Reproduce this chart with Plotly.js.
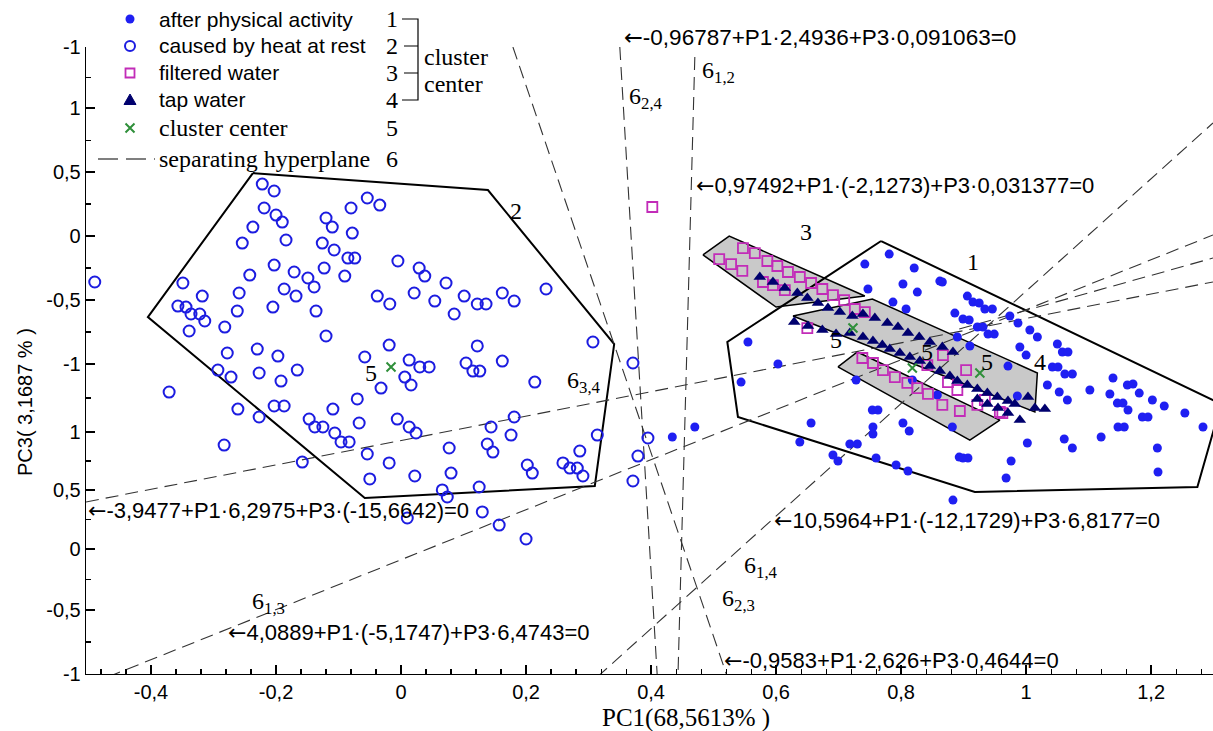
<!DOCTYPE html>
<html><head><meta charset="utf-8">
<script src="https://cdn.plot.ly/plotly-3.0.1.min.js"></script>
<style>body{margin:0;background:#fff}#chart{width:1213px;height:731px}</style>
</head><body><div id="chart"></div>
<script>
// ---------- axis ticks ----------
const xTickVals = [-0.4,-0.2,0,0.2,0.4,0.6,0.8,1,1.2];
const xTickText = ['-0,4','-0,2','0','0,2','0,4','0,6','0,8','1','1,2'];
const yTickVals = [1.477,1.0,0.5,0,-0.5,-1.0,-1.531,-1.984,-2.445,-2.922,-3.422];
const yTickText = ['-1','1','0,5','0','-0,5','-1','1','0,5','0','-0,5','-1'];
const xRange = [-0.504, 1.299];
const yRange = [-3.422, 1.477];

// ---------- series: caused by heat at rest (open circles) ----------
const heatX = [-0.222,-0.203,-0.219,-0.200,-0.190,-0.237,-0.254,-0.184,-0.120,-0.110,-0.080,-0.078,-0.126,-0.107,-0.085,-0.203,-0.171,-0.242,-0.149,-0.139,-0.123,-0.090,-0.490,-0.349,-0.318,-0.259,-0.187,-0.168,-0.357,-0.344,-0.336,-0.322,-0.314,-0.262,-0.205,-0.136,-0.339,-0.282,-0.120,-0.278,-0.230,-0.197,-0.293,-0.272,-0.227,-0.192,-0.166,-0.371,-0.261,-0.203,-0.187,-0.109,-0.227,-0.147,-0.138,-0.125,-0.106,-0.096,-0.083,-0.283,-0.158,
 -0.054,-0.034,-0.074,-0.005,0.029,0.038,0.072,-0.038,-0.018,0.021,0.054,0.101,0.085,0.122,0.136,0.162,0.181,0.232,-0.019,-0.058,0.013,0.030,0.045,0.006,0.016,-0.032,0.122,0.162,0.104,0.115,0.126,0.214,0.307,0.371,-0.070,-0.067,-0.006,0.013,0.024,0.077,0.144,0.181,0.176,0.138,0.147,-0.054,-0.019,-0.050,0.022,0.080,0.202,0.210,0.259,0.270,0.282,0.291,0.286,0.314,0.066,0.074,0.125,0.130,0.010,0.157,0.200,0.371,0.379,0.395];
const heatY = [0.406,0.352,0.219,0.164,0.109,0.070,-0.055,-0.031,0.141,0.070,0.219,0.023,-0.055,-0.109,-0.172,-0.227,-0.281,-0.305,-0.328,-0.398,-0.250,-0.313,-0.359,-0.367,-0.469,-0.445,-0.414,-0.469,-0.547,-0.555,-0.609,-0.609,-0.664,-0.586,-0.555,-0.586,-0.742,-0.711,-0.781,-0.914,-0.883,-0.938,-1.047,-1.102,-1.070,-1.133,-1.047,-1.219,-1.352,-1.328,-1.328,-1.352,-1.414,-1.430,-1.492,-1.492,-1.539,-1.609,-1.609,-1.633,-1.766,
 0.297,0.242,-0.172,-0.195,-0.250,-0.313,-0.367,-0.469,-0.531,-0.445,-0.508,-0.469,-0.609,-0.531,-0.531,-0.445,-0.508,-0.414,-0.852,-0.945,-0.969,-1.023,-1.023,-1.102,-1.164,-1.188,-0.859,-0.977,-0.992,-1.055,-1.055,-1.141,-0.828,-0.992,-1.273,-1.461,-1.430,-1.492,-1.539,-1.656,-1.492,-1.414,-1.555,-1.625,-1.688,-1.703,-1.773,-1.898,-1.875,-1.852,-1.789,-1.852,-1.773,-1.813,-1.813,-1.875,-1.680,-1.555,-1.984,-2.039,-1.961,-2.156,-2.203,-2.258,-2.367,-1.914,-1.719,-1.578];

// ---------- series: after physical activity (filled dots) ----------
const actX = [0.781,0.742,0.821,0.862,0.803,0.826,0.747,0.787,0.808,0.886,0.555,0.603,0.544,0.728,0.470,0.434,0.656,0.754,0.763,0.755,0.755,0.803,0.813,0.638,0.718,0.730,0.691,0.699,0.760,0.792,0.811,0.893,0.818,0.858,
 0.866,0.906,0.915,0.925,0.934,0.946,0.899,0.909,0.974,0.987,0.922,0.931,1.006,1.018,0.939,0.949,0.890,1.050,1.058,1.067,0.990,1.000,0.910,1.042,1.051,1.062,1.074,0.971,1.034,1.053,1.066,1.102,1.139,1.162,1.171,1.181,1.134,1.146,1.155,1.163,1.202,1.221,1.186,1.195,1.254,1.283,1.147,1.157,1.120,1.061,1.074,1.210,1.211,1.002,0.882,0.899,0.907,0.976,0.968,0.883,0.986];
const actY = [-0.141,-0.219,-0.250,-0.352,-0.375,-0.438,-0.414,-0.516,-0.570,-0.602,-0.828,-1.000,-1.141,-1.125,-1.492,-1.570,-1.461,-1.359,-1.359,-1.492,-1.547,-1.461,-1.523,-1.609,-1.625,-1.625,-1.711,-1.758,-1.734,-1.789,-1.836,-1.727,-1.125,-1.242,
 -0.359,-0.469,-0.516,-0.523,-0.570,-0.570,-0.648,-0.656,-0.625,-0.680,-0.711,-0.711,-0.734,-0.789,-0.766,-0.766,-0.789,-0.844,-0.906,-0.906,-0.867,-0.930,-0.859,-1.023,-1.023,-1.078,-1.078,-1.016,-1.164,-1.219,-1.281,-1.203,-1.109,-1.164,-1.156,-1.227,-1.234,-1.305,-1.305,-1.359,-1.281,-1.328,-1.414,-1.414,-1.383,-1.492,-1.492,-1.492,-1.570,-1.586,-1.656,-1.656,-1.844,-1.617,-1.492,-1.734,-1.734,-1.758,-1.891,-2.063,-1.250];

// ---------- series: filtered water (open squares) ----------
const filtX = [0.402,0.547,0.566,0.509,0.528,0.546,0.586,0.602,0.619,0.638,0.656,0.674,0.691,0.709,0.579,0.595,0.614,0.726,0.742,0.650,0.738,0.755,0.771,0.790,0.810,0.826,0.843,0.866,0.842,0.867,0.890,0.894,0.922,0.934,0.958,0.875,0.904,0.962];
const filtY = [0.227,-0.094,-0.133,-0.180,-0.219,-0.273,-0.195,-0.234,-0.281,-0.320,-0.367,-0.414,-0.461,-0.500,-0.359,-0.383,-0.422,-0.570,-0.594,-0.719,-0.953,-0.992,-1.047,-1.102,-1.148,-1.188,-1.234,-1.320,-1.008,-0.930,-1.203,-1.367,-1.320,-1.281,-1.375,-1.141,-1.047,-1.383];

// ---------- series: tap water (triangles) ----------
const tapX = [0.574,0.595,0.614,0.634,0.650,0.667,0.683,0.702,0.722,0.739,0.758,0.778,0.795,0.811,0.829,0.846,0.866,0.883,0.629,0.651,0.674,0.696,0.718,0.739,0.755,0.770,0.782,0.798,0.814,0.830,0.846,0.862,0.878,0.890,0.906,0.922,0.938,0.954,0.971,0.982,1.003,1.014,1.030,0.990,0.971,0.955,0.938,0.922];
const tapY = [-0.320,-0.359,-0.406,-0.445,-0.484,-0.523,-0.563,-0.594,-0.625,-0.609,-0.641,-0.680,-0.711,-0.758,-0.789,-0.828,-0.867,-0.906,-0.672,-0.703,-0.734,-0.766,-0.758,-0.789,-0.820,-0.852,-0.883,-0.914,-0.945,-0.977,-1.016,-1.055,-1.094,-1.133,-1.164,-1.195,-1.227,-1.258,-1.289,-1.313,-1.258,-1.344,-1.352,-1.438,-1.383,-1.344,-1.313,-1.273];

// ---------- cluster centres ----------
const centerX = [-0.016,0.723,0.818,0.926];
const centerY = [-1.023,-0.719,-1.031,-1.070];

// ---------- cluster hulls (vertices) ----------
const hull2X = [-0.237,0.139,0.341,0.310,-0.058,-0.405,-0.237];
const hull2Y = [0.492,0.359,-0.844,-1.953,-2.047,-0.633,0.492];
const hull1X = [0.768,1.312,1.274,0.918,0.539,0.522,0.768];
const hull1Y = [-0.039,-1.313,-1.961,-2.000,-1.414,-0.828,-0.039];
const greyAX = [0.483,0.525,0.742,0.600,0.483];
const greyAY = [-0.148,0,-0.469,-0.555,-0.148];
const greyBX = [0.627,0.754,1.018,1.014,0.627];
const greyBY = [-0.625,-0.492,-1.070,-1.375,-0.625];
const greyCX = [0.699,0.730,0.958,0.910,0.699];
const greyCY = [-1.023,-0.906,-1.438,-1.594,-1.023];

// ---------- separating hyperplanes (end points) ----------
const planeNames = ['6_2,3','6_2,4','6_1,2','6_3,4','6_1,3','6_1,4','right fan'];
const planeX0 = [0.179,0.350,0.470,-0.504,-0.469,0.314,0.893];
const planeY0 = [1.477,1.477,1.398,-2.078,-3.445,-3.445,-0.727];
const planeX1 = [0.522,0.410,0.443,1.299,1.299,1.299,1.299];
const planeY1 = [-3.445,-3.445,-3.445,-0.359,0.008,0.883,-0.172];

// ---------- legend ----------
const legendLabels = ['after physical activity','caused by heat at rest','filtered water','tap water','cluster center','separating hyperplane'];
const legendNums = ['1','2','3','4','5','6'];

// ================= drawing =================
const W=1213,H=731,L=86,R=1213,T=47,B=674;
const px=x=>(x-L)/(R-L), py=y=>(B-y)/(B-T);
const SANS='Liberation Sans, Arial, sans-serif', SERIF='Liberation Serif, Times New Roman, serif';
const BLUE='#1c1ce0', DOT='#1f1ff2', NAVY='#00006e', MAG='#c22cb8', GREEN='#2f8f3a';

const traces=[];
function poly(xs,ys,fill){
  traces.push({x:xs,y:ys,mode:'lines',type:'scatter',hoverinfo:'skip',showlegend:false,
    fill:fill?'toself':'none',fillcolor:'#c9c9c9',line:{color:'#000',width:fill?1.5:2}});
}
poly(greyAX,greyAY,true);poly(greyCX,greyCY,true);poly(greyBX,greyBY,true);
poly(hull2X,hull2Y,false);poly(hull1X,hull1Y,false);
planeNames.forEach((n,i)=>traces.push({x:[planeX0[i],planeX1[i]],y:[planeY0[i],planeY1[i]],mode:'lines',type:'scatter',
  hoverinfo:'skip',showlegend:false,line:{color:'#333',width:1.1,dash:'13px,7px'}}));
traces.push({x:heatX,y:heatY,mode:'markers',type:'scatter',name:legendLabels[1],showlegend:false,
  marker:{symbol:'circle-open',size:11,color:BLUE,line:{width:2,color:BLUE}}});
traces.push({x:actX,y:actY,mode:'markers',type:'scatter',name:legendLabels[0],showlegend:false,
  marker:{symbol:'circle',size:9,color:DOT}});
traces.push({x:filtX,y:filtY,mode:'markers',type:'scatter',name:legendLabels[2],showlegend:false,
  marker:{symbol:'square-open',size:10,color:MAG,line:{width:1.8,color:MAG}}});
traces.push({x:tapX,y:tapY,mode:'markers',type:'scatter',name:legendLabels[3],showlegend:false,
  marker:{symbol:'triangle-up',size:11,color:NAVY}});
traces.push({x:centerX,y:centerY,mode:'markers',type:'scatter',name:legendLabels[4],showlegend:false,
  marker:{symbol:'x-thin',size:9,color:GREEN,line:{width:2,color:GREEN}}});

const legY=[19,46,73,100,128,159];
const ann=[];
function txt(t,x,y,o){ann.push(Object.assign({text:t,xref:'paper',yref:'paper',x:px(x),y:py(y),showarrow:false,
  xanchor:'left',yanchor:'middle',font:{family:SANS,size:22,color:'#000'}},o||{}));}
const serif=s=>({family:SERIF,size:s,color:'#000'});
const sans=s=>({family:SANS,size:s,color:'#000'});
legendLabels.forEach((l,i)=>txt(l,157,legY[i],{font:i>=4?serif(24):sans(21)}));
legendNums.forEach((n,i)=>txt(n,392,legY[i],{xanchor:'center',font:serif(24)}));
txt('cluster',422,57,{font:serif(24)});
txt('center',422,84,{font:serif(24)});
// equations
const AR='<span style="font-family:DejaVu Sans">\u2190</span>';
txt(AR+'-0,96787+P1\u00b72,4936+P3\u00b70,091063=0',622,37,{font:sans(22.5)});
txt(AR+'0,97492+P1\u00b7(-2,1273)+P3\u00b70,031377=0',694,185);
txt(AR+'-3,9477+P1\u00b76,2975+P3\u00b7(-15,6642)=0',86,510);
txt(AR+'10,5964+P1\u00b7(-12,1729)+P3\u00b76,8177=0',772,520);
txt(AR+'4,0889+P1\u00b7(-5,1747)+P3\u00b76,4743=0',226,632);
txt(AR+'-0,9583+P1\u00b72,626+P3\u00b70,4644=0',722,660);
// plane labels
const sub=(a,b)=>a+'<sub>'+b+'</sub>';
txt(sub('6','1,2'),700,72,{font:serif(24)});
txt(sub('6','2,4'),627,98,{font:serif(24)});
txt(sub('6','3,4'),565,382,{font:serif(24)});
txt(sub('6','1,3'),250,603,{font:serif(24)});
txt(sub('6','1,4'),742,567,{font:serif(24)});
txt(sub('6','2,3'),720,600,{font:serif(24)});
// cluster labels
txt('2',516,211,{xanchor:'center',font:serif(24)});
txt('3',806,232,{xanchor:'center',font:serif(24)});
txt('1',973,262,{xanchor:'center',font:serif(24)});
txt('4',1040,362,{xanchor:'center',font:serif(24)});
[[371,373],[836,340],[927,352],[987,362]].forEach(p=>txt('5',p[0],p[1],{xanchor:'center',font:serif(24)}));
// axis titles
txt('PC1(68,5613% )',686,718,{xanchor:'center',font:serif(25)});
txt('PC3( 3,1687 % )',25,402,{xanchor:'center',textangle:-90,font:sans(20)});

// legend symbols and bracket (layout shapes)
const shapes=[];
const P=(x,y)=>px(x)+','+py(y);
const sx=130;
shapes.push({type:'circle',xref:'paper',yref:'paper',x0:px(sx-4.5),x1:px(sx+4.5),y0:py(legY[0]+4.5),y1:py(legY[0]-4.5),fillcolor:DOT,line:{width:0}});
shapes.push({type:'circle',xref:'paper',yref:'paper',x0:px(sx-5),x1:px(sx+5),y0:py(legY[1]+5),y1:py(legY[1]-5),line:{color:BLUE,width:2}});
shapes.push({type:'rect',xref:'paper',yref:'paper',x0:px(sx-4.5),x1:px(sx+4.5),y0:py(legY[2]+4.5),y1:py(legY[2]-4.5),line:{color:MAG,width:1.8}});
shapes.push({type:'path',xref:'paper',yref:'paper',path:`M${P(sx-6,legY[3]+4.5)} L${P(sx+6,legY[3]+4.5)} L${P(sx,legY[3]-6)} Z`,fillcolor:NAVY,line:{color:NAVY,width:1}});
shapes.push({type:'path',xref:'paper',yref:'paper',path:`M${P(sx-4.5,legY[4]-4.5)} L${P(sx+4.5,legY[4]+4.5)} M${P(sx-4.5,legY[4]+4.5)} L${P(sx+4.5,legY[4]-4.5)}`,line:{color:GREEN,width:2}});
shapes.push({type:'line',xref:'paper',yref:'paper',x0:px(98),x1:px(155),y0:py(legY[5]),y1:py(legY[5]),line:{color:'#000',width:1.2,dash:'20px,8px'}});
shapes.push({type:'path',xref:'paper',yref:'paper',path:`M${P(402,legY[0])} L${P(418,legY[0])} L${P(418,legY[3])} L${P(402,legY[3])} M${P(404,legY[1])} L${P(418,legY[1])} M${P(404,legY[2])} L${P(418,legY[2])}`,line:{color:'#000',width:1.2}});

const yMinor=[];for(let i=0;i<yTickVals.length-1;i++)yMinor.push((yTickVals[i]+yTickVals[i+1])/2);

const layout={width:W,height:H,margin:{l:L,r:W-R,t:T,b:H-B},paper_bgcolor:'#fff',plot_bgcolor:'#fff',showlegend:false,
  xaxis:{range:xRange,showgrid:false,zeroline:false,showline:true,linecolor:'#000',linewidth:1.3,ticks:'inside',ticklen:9,tickwidth:1.3,
    tickcolor:'#000',tickmode:'array',tickvals:xTickVals,ticktext:xTickText,tickfont:sans(20),
    minor:{tickmode:'linear',tick0:0,dtick:0.04,ticklen:5,tickwidth:1.1,tickcolor:'#000',ticks:'inside'}},
  yaxis:{range:yRange,showgrid:false,zeroline:false,showline:true,linecolor:'#000',linewidth:1.3,ticks:'inside',ticklen:9,tickwidth:1.3,
    tickcolor:'#000',tickmode:'array',tickvals:yTickVals,ticktext:yTickText,tickfont:sans(20),
    minor:{tickmode:'array',tickvals:yMinor,ticklen:5,tickwidth:1.1,tickcolor:'#000',ticks:'inside'}},
  annotations:ann,shapes:shapes};
Plotly.newPlot('chart',traces,layout,{staticPlot:true,displayModeBar:false});
</script></body></html>
